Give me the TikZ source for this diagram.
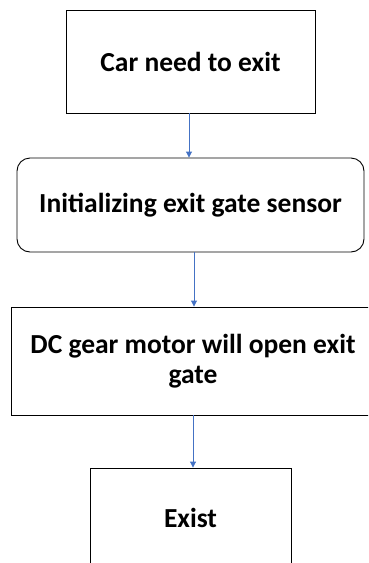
\documentclass[tikz,border=0pt]{standalone}
\usepackage{fontspec}
\setmainfont{Carlito}
\usepackage{xcolor}
\usetikzlibrary{arrows.meta}
\definecolor{flowblue}{HTML}{4472C4}

\begin{document}
\begin{tikzpicture}[x=1pt, y=-1pt,
    box/.style={shape=rectangle, draw, line width=0.9pt, inner sep=0pt,
      align=center, font=\fontsize{27.5}{30}\selectfont\bfseries},
    roundbox/.style={box, rounded corners=13pt},
    flow/.style={draw=flowblue, line width=0.9pt,
      -{Triangle[width=6pt,length=6pt]}}]
    \useasboundingbox (0,0) rectangle (368,563);
    \clip (0,0) rectangle (368,563);
    \node[box, minimum width=249pt, minimum height=103pt] (exitcar) at (190.5,61.5) {Car need to exit};
    \node[roundbox, minimum width=347pt, minimum height=94pt] (sensor) at (190.5,205) {Initializing exit gate sensor};
    \node[box, minimum width=364pt, minimum height=108pt] (motor) at (193,361) {DC gear motor will open exit\\gate};
    \node[box, minimum width=201pt, minimum height=100pt] (exist) at (190.5,518) {Exist};

    \draw[flow] ([xshift=-1.5pt]exitcar.south) -- ([xshift=-1.5pt]sensor.north);
    \draw[flow] ([xshift=3.5pt]sensor.south) -- ([xshift=1pt]motor.north);
    \draw[flow] (motor.south) -- (motor.south |- exist.north);
  \end{tikzpicture}
\end{document}
